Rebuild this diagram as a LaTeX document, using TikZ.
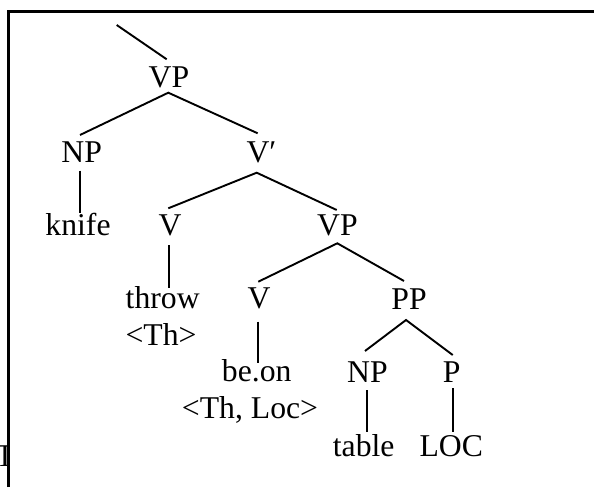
\documentclass[tikz,border=0pt]{standalone}
\usepackage{fontspec}
\setmainfont{Liberation Serif}
\begin{document}
\begin{tikzpicture}[x=1pt,y=-1pt,
  lbl/.style={anchor=base, inner sep=0pt, font=\fontsize{31.7}{38}\selectfont},
  edge/.style={line width=1.9pt},
  frame/.style={line width=2.1pt}]
\useasboundingbox (0,0) rectangle (594,487);
\fill[white] (0,0) rectangle (594,487);
% frame
\coordinate (fbl) at (8.5,487);
\coordinate (ftl) at (8.5,11.5);
\coordinate (ftr) at (594,11.5);
\draw[frame] (fbl) -- (ftl) -- (ftr);
\begin{scope}
  \clip (0,0) rectangle (7.6,487);
  \node[lbl] (tcut) at (5,466.7) {T};
\end{scope}
% labels
\node[lbl] (vp1) at (169,88) {VP};
\node[lbl] (np1) at (81.7,162.7) {NP};
\node[lbl] (vbar) at (261.5,162.5) {V′};
\node[lbl] (knife) at (78,235) {knife};
\node[lbl] (v1) at (170,235) {V};
\node[lbl] (vp2) at (337.5,235) {VP};
\node[lbl] (throw) at (162.7,308.3) {throw};
\node[lbl] (th1) at (161,345) {<Th>};
\node[lbl] (v2) at (259,308.3) {V};
\node[lbl] (pp) at (409,309) {PP};
\node[lbl] (beon) at (256.7,381.7) {be.on};
\node[lbl] (thloc) at (250,418) {<Th, Loc>};
\node[lbl] (np2) at (367.5,382.7) {NP};
\node[lbl] (p) at (451.7,382.7) {P};
\node[lbl] (table) at (363.7,456.7) {table};
\node[lbl] (loc) at (451.3,456.7) {LOC};
% connector end points
\coordinate (stA) at (116.7,25);
\coordinate (stB) at (166.7,59.3);
\coordinate (vp1b) at (168.3,92.7);
\coordinate (np1t) at (80,135);
\coordinate (vbart) at (257.7,133.3);
\coordinate (np1b) at (80,170.7);
\coordinate (knifet) at (80,213);
\coordinate (vbarb) at (256.7,172.7);
\coordinate (v1t) at (168.3,208.3);
\coordinate (vp2t) at (336.7,210);
\coordinate (v1b) at (169,245);
\coordinate (throwt) at (169,288);
\coordinate (vp2b) at (337.3,243.3);
\coordinate (v2t) at (258.3,281.7);
\coordinate (ppt) at (404,281);
\coordinate (v2b) at (258.3,321.7);
\coordinate (beont) at (258.3,362.7);
\coordinate (ppb) at (406,320);
\coordinate (np2t) at (365,351);
\coordinate (pt) at (452.7,355);
\coordinate (np2b) at (366.7,390);
\coordinate (tablet) at (366.7,431.7);
\coordinate (pb) at (453.3,388);
\coordinate (loct) at (453.3,431.7);
% connectors
\draw[edge] (stA) -- (stB);
\draw[edge] (np1t) -- (vp1b) -- (vbart);
\draw[edge] (np1b) -- (knifet);
\draw[edge] (v1t) -- (vbarb) -- (vp2t);
\draw[edge] (v1b) -- (throwt);
\draw[edge] (v2t) -- (vp2b) -- (ppt);
\draw[edge] (v2b) -- (beont);
\draw[edge] (np2t) -- (ppb) -- (pt);
\draw[edge] (np2b) -- (tablet);
\draw[edge] (pb) -- (loct);
\end{tikzpicture}
\end{document}
